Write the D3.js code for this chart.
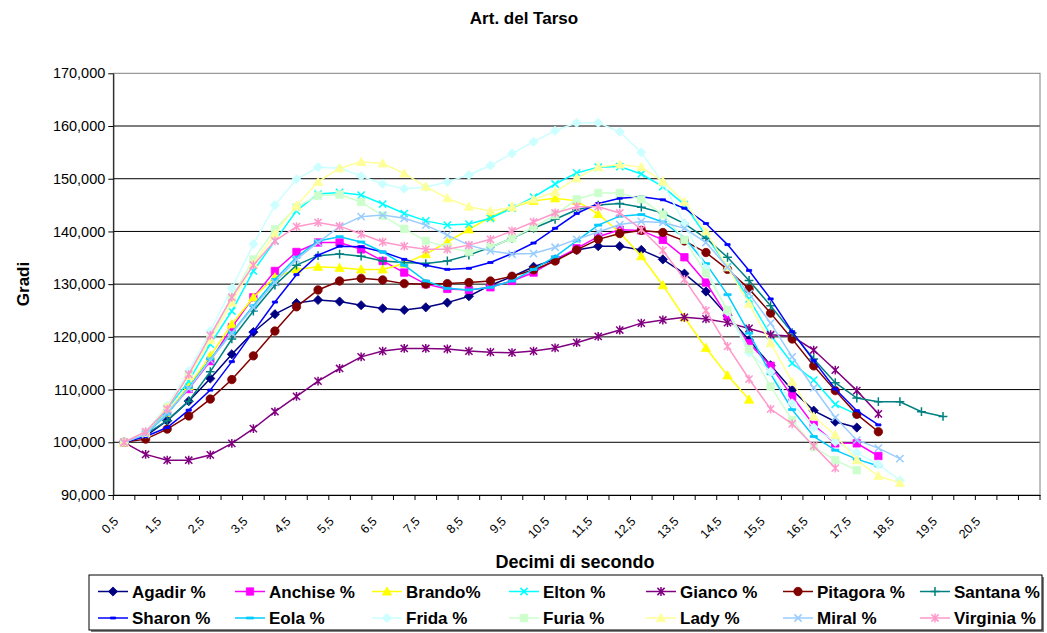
<!DOCTYPE html>
<html>
<head>
<meta charset="utf-8">
<script src="https://cdn.jsdelivr.net/npm/d3@7"></script>
<style>
  body { margin: 0; background: #fff; }
  svg { font-family: Arial, "Liberation Sans", sans-serif; }
</style>
</head>
<body>
<svg id="chart" width="1047" height="633"></svg>
<script>
// Tempo in decimi di secondo
const categories = [0.5, 1, 1.5, 2, 2.5, 3, 3.5, 4, 4.5, 5, 5.5, 6, 6.5, 7, 7.5, 8, 8.5, 9, 9.5, 10,
  10.5, 11, 11.5, 12, 12.5, 13, 13.5, 14, 14.5, 15, 15.5, 16, 16.5, 17, 17.5, 18, 18.5, 19, 19.5, 20,
  20.5, 21, 21.5];
const xTickLabels = ["0,5", "1,5", "2,5", "3,5", "4,5", "5,5", "6,5", "7,5", "8,5", "9,5", "10,5",
  "11,5", "12,5", "13,5", "14,5", "15,5", "16,5", "17,5", "18,5", "19,5", "20,5"];
const yTicks = [90, 100, 110, 120, 130, 140, 150, 160, 170];

// Angolo dell'articolazione del tarso, in % del valore iniziale
const agadir = [100, 101.2, 104.1, 107.8, 112.1, 116.7, 120.9, 124.3, 126.4, 127.0, 126.7, 126.0, 125.4, 125.1, 125.6, 126.5, 127.7, 129.8, 131.4, 133.3, 134.7, 136.5, 137.2, 137.2, 136.5, 134.7, 132.0, 128.6, 124.0, 119.4, 114.6, 109.9, 106.0, 103.9, 102.8];
const anchise = [100, 101.5, 105.6, 110.1, 115.4, 121.8, 127.5, 132.5, 136.1, 137.9, 137.9, 136.6, 134.4, 132.2, 130.0, 129.1, 128.9, 129.4, 130.6, 132.2, 134.6, 136.8, 139.0, 140.3, 140.2, 138.4, 135.1, 130.3, 123.9, 118.8, 114.5, 108.7, 103.3, 99.8, 99.8, 97.4];
const brando = [100, 101.8, 105.6, 110.7, 116.4, 122.4, 127.5, 131.3, 132.8, 133.3, 133.1, 132.8, 132.8, 133.9, 135.7, 138.0, 140.4, 142.7, 144.6, 145.8, 146.3, 145.8, 143.3, 139.8, 135.3, 129.8, 123.7, 117.9, 112.7, 108.1];
const elton = [100, 101.5, 106.3, 111.6, 118.6, 124.9, 132.5, 138.2, 143.9, 147.1, 147.4, 146.9, 145.2, 143.4, 142.0, 141.2, 141.4, 142.5, 144.4, 146.5, 149.0, 151.1, 152.2, 152.3, 150.9, 148.5, 145.1, 139.2, 133.3, 127.2, 120.3, 115.0, 111.8, 107.2, 105.3];
const gianco = [100, 97.7, 96.6, 96.6, 97.6, 99.8, 102.6, 105.8, 108.7, 111.6, 114.0, 116.2, 117.3, 117.8, 117.8, 117.7, 117.3, 117.1, 117.0, 117.3, 117.9, 118.9, 120.1, 121.3, 122.6, 123.2, 123.7, 123.4, 122.7, 121.6, 120.4, 120.1, 117.5, 113.7, 109.8, 105.4];
const pitagora = [100, 100.6, 102.5, 105.0, 108.2, 111.9, 116.4, 121.1, 125.7, 128.9, 130.6, 131.1, 130.8, 130.1, 130.0, 130.1, 130.3, 130.6, 131.5, 132.7, 134.4, 136.5, 138.5, 139.6, 140.2, 139.8, 138.2, 136.0, 132.8, 129.1, 124.5, 119.6, 114.5, 109.8, 105.3, 102.0];
const santana = [100, 101.5, 104.1, 107.8, 113.4, 119.6, 124.9, 129.8, 133.6, 135.4, 135.7, 135.3, 134.4, 134.1, 133.9, 134.4, 135.5, 137.0, 138.7, 140.6, 142.3, 144.1, 145.0, 145.3, 144.6, 143.5, 141.5, 138.7, 135.1, 130.7, 125.9, 120.8, 115.8, 111.3, 108.4, 107.7, 107.7, 105.8, 104.9];
const sharon = [100, 101.1, 102.8, 106.1, 109.9, 115.3, 121.0, 126.6, 131.8, 135.5, 137.2, 137.1, 136.1, 134.7, 133.6, 132.8, 133.0, 134.1, 135.8, 137.8, 140.6, 143.4, 145.3, 146.3, 146.6, 146.0, 144.4, 141.5, 137.5, 132.6, 127.2, 121.0, 115.5, 110.1, 106.0, 103.3];
const eola = [100, 101.5, 105.3, 110.4, 115.8, 120.8, 125.9, 130.9, 135.1, 138.2, 139.0, 138.0, 136.1, 133.6, 130.6, 129.2, 128.9, 129.4, 130.6, 132.8, 135.2, 138.2, 141.2, 142.9, 143.2, 141.8, 138.8, 133.9, 128.0, 120.7, 113.0, 106.2, 101.1, 98.5, 96.8, 95.5];
const frida = [100, 102.0, 106.9, 113.5, 121.1, 129.2, 137.6, 145.0, 149.9, 152.2, 152.0, 150.5, 149.0, 148.1, 148.4, 149.4, 150.7, 152.5, 154.8, 157.0, 159.1, 160.6, 160.6, 158.9, 155.0, 149.2, 141.5, 133.0, 124.8, 117.0, 113.4, 107.4, 102.8, 100.1, 98.0, 95.8, 92.8];
const furia = [100, 101.8, 106.6, 112.6, 119.6, 127.5, 134.7, 140.4, 144.6, 146.8, 147.0, 145.6, 143.0, 140.5, 138.2, 137.0, 136.1, 137.0, 138.7, 140.8, 143.1, 146.1, 147.3, 147.3, 146.1, 143.2, 138.4, 132.1, 125.1, 117.7, 110.6, 104.2, 99.1, 96.6, 94.7];
const lady = [100, 101.8, 106.6, 112.6, 119.4, 126.5, 133.8, 139.5, 144.9, 149.4, 152.0, 153.2, 152.9, 151.0, 148.5, 146.3, 144.7, 143.9, 144.6, 146.1, 147.5, 150.1, 152.2, 152.7, 152.2, 149.5, 145.6, 140.0, 133.2, 126.3, 118.8, 111.5, 104.9, 101.4, 96.6, 93.6, 92.3];
const miral = [100, 101.5, 105.6, 110.2, 115.6, 120.7, 125.6, 130.3, 134.7, 137.9, 140.9, 142.8, 143.1, 142.5, 141.2, 139.3, 137.4, 136.3, 135.7, 135.8, 137.0, 138.5, 139.9, 141.3, 141.9, 141.7, 140.6, 137.9, 133.2, 128.2, 122.6, 116.2, 110.3, 104.7, 100.4, 98.9, 96.9];
const virginia = [100, 102.0, 106.3, 112.9, 120.3, 127.5, 133.6, 138.2, 140.9, 141.7, 141.0, 139.5, 138.0, 137.2, 136.6, 136.6, 137.4, 138.5, 140.1, 141.8, 143.5, 144.7, 144.7, 143.5, 140.4, 136.4, 130.9, 125.0, 118.2, 112.0, 106.3, 103.5, 99.3, 95.1];

const seriesNames = ["Agadir %", "Anchise %", "Brando%", "Elton %", "Gianco %", "Pitagora %", "Santana %",
  "Sharon %", "Eola %", "Frida %", "Furia %", "Lady %", "Miral %", "Virginia %"];
const seriesValues = [agadir, anchise, brando, elton, gianco, pitagora, santana,
  sharon, eola, frida, furia, lady, miral, virginia];
const seriesColors = ["#000080", "#FF00FF", "#FFFF00", "#00FFFF", "#800080", "#800000", "#008080",
  "#0000FF", "#00CCFF", "#CCFFFF", "#CCFFCC", "#FFFF99", "#99CCFF", "#FF99CC"];
const seriesMarkers = ["diamond", "square", "triangle", "x", "star", "circle", "plus",
  "dash", "longdash", "diamond", "square", "triangle", "x", "star"];

// Marker shapes centred on (0,0)
const markerShapes = {
  diamond:  { d: "M0,-4.6L4.6,0L0,4.6L-4.6,0Z", fill: true },
  square:   { d: "M-3.7,-3.7H3.7V3.7H-3.7Z", fill: true },
  triangle: { d: "M0,-4.6L4.6,3.6H-4.6Z", fill: true },
  circle:   { d: "M4.2,0A4.2,4.2 0 1,1 -4.2,0A4.2,4.2 0 1,1 4.2,0Z", fill: true },
  x:        { d: "M-3.6,-3.6L3.6,3.6M-3.6,3.6L3.6,-3.6", fill: false },
  star:     { d: "M-3.6,-3.6L3.6,3.6M-3.6,3.6L3.6,-3.6M0,-4.4V4.4", fill: false },
  plus:     { d: "M-4.4,0H4.4M0,-4.4V4.4", fill: false },
  dash:     { d: "M-2.6,-1H2.6V1H-2.6Z", fill: true },
  longdash: { d: "M-3.6,-1H3.6V1H-3.6Z", fill: true }
};

const svg = d3.select("#chart");
const plot = { left: 113.3, right: 1040, top: 73.3, bottom: 495 };

const x = d3.scaleBand()
  .domain(d3.range(categories.length))
  .range([plot.left, plot.right]);
const cx = i => x(i) + x.bandwidth() / 2;
const y = d3.scaleLinear().domain([90, 170]).range([plot.bottom, plot.top]);
// 170 -> "170,000"
const fmtTick = v => d3.format(".3f")(v).replace(".", ",");

// Title
svg.append("text")
  .attr("x", 524).attr("y", 24)
  .attr("text-anchor", "middle")
  .style("font-weight", "bold").style("font-size", "17px")
  .text("Art. del Tarso");

// Gridlines
svg.append("g").selectAll("line")
  .data(yTicks.filter(v => v > 90 && v < 170))
  .join("line")
  .attr("x1", plot.left).attr("x2", plot.right)
  .attr("y1", d => y(d)).attr("y2", d => y(d))
  .attr("stroke", "#000").attr("stroke-width", 1);

// Plot area border
svg.append("rect")
  .attr("x", plot.left).attr("y", plot.top)
  .attr("width", plot.right - plot.left).attr("height", plot.bottom - plot.top)
  .attr("fill", "none").attr("stroke", "#808080").attr("stroke-width", 1);

// Y axis
const yAxis = svg.append("g")
  .attr("transform", `translate(${plot.left},0)`)
  .call(d3.axisLeft(y).tickValues(yTicks).tickSize(5).tickSizeOuter(0).tickPadding(3).tickFormat(fmtTick));
yAxis.selectAll("text").style("font-size", "14.5px").attr("fill", "#000");
yAxis.selectAll("line,path").attr("stroke", "#000");

// X axis (category axis with ticks between categories)
const xAxis = svg.append("g")
  .attr("transform", `translate(0,${plot.bottom})`)
  .call(d3.axisBottom(x)
    .tickValues(d3.range(0, xTickLabels.length * 2, 2))
    .tickSize(0).tickSizeOuter(0)
    .tickFormat(i => xTickLabels[i / 2]));
xAxis.select(".domain").attr("stroke", "#000");
xAxis.selectAll("text")
  .attr("x", 0).attr("y", 0).attr("dy", 0)
  .attr("text-anchor", "end")
  .attr("transform", "translate(-5,27) rotate(-45)")
  .style("font-size", "12.5px").attr("fill", "#000");
xAxis.append("g").selectAll("line")
  .data(d3.range(categories.length + 1))
  .join("line")
  .attr("x1", i => plot.left + i * x.step()).attr("x2", i => plot.left + i * x.step())
  .attr("y1", 0).attr("y2", 5)
  .attr("stroke", "#000");

// Axis titles
svg.append("text")
  .attr("transform", "translate(29,284) rotate(-90)")
  .attr("text-anchor", "middle")
  .style("font-weight", "bold").style("font-size", "17px")
  .text("Gradi");
svg.append("text")
  .attr("x", 575).attr("y", 568)
  .attr("text-anchor", "middle")
  .style("font-weight", "bold").style("font-size", "18px")
  .text("Decimi di secondo");

// Series
const line = d3.line()
  .defined(d => d.v != null)
  .x(d => cx(d.i))
  .y(d => y(d.v));

const series = seriesNames.map((name, k) => ({
  name,
  color: seriesColors[k],
  marker: seriesMarkers[k],
  points: categories.map((c, i) => ({ i, v: seriesValues[k][i] ?? null }))
}));

const sg = svg.append("g").selectAll("g").data(series).join("g");
sg.append("path")
  .attr("d", d => line(d.points))
  .attr("fill", "none")
  .attr("stroke", d => d.color)
  .attr("stroke-width", 1.5);
sg.each(function (s) {
  const shape = markerShapes[s.marker];
  d3.select(this).selectAll("path.m")
    .data(s.points.filter(p => p.v != null))
    .join("path")
    .attr("class", "m")
    .attr("transform", p => `translate(${cx(p.i)},${y(p.v)})`)
    .attr("d", shape.d)
    .attr("fill", shape.fill ? s.color : "none")
    .attr("stroke", s.color)
    .attr("stroke-width", shape.fill ? 0.8 : 1.5);
});

// Legend
const legend = { x: 89, y: 575, w: 953, h: 55 };
svg.append("rect")
  .attr("x", legend.x + 2).attr("y", legend.y + 2)
  .attr("width", legend.w).attr("height", legend.h)
  .attr("fill", "#808080");
svg.append("rect")
  .attr("x", legend.x).attr("y", legend.y)
  .attr("width", legend.w).attr("height", legend.h)
  .attr("fill", "#fff").attr("stroke", "#000").attr("stroke-width", 1);

const lg = svg.append("g").selectAll("g").data(series).join("g")
  .attr("transform", (d, k) => `translate(${98 + (k % 7) * 137},${k < 7 ? 591.5 : 618})`);
lg.append("line")
  .attr("x1", 0).attr("x2", 30)
  .attr("stroke", d => d.color).attr("stroke-width", 1.5);
lg.append("path")
  .attr("transform", "translate(15,0)")
  .attr("d", d => markerShapes[d.marker].d)
  .attr("fill", d => markerShapes[d.marker].fill ? d.color : "none")
  .attr("stroke", d => d.color)
  .attr("stroke-width", d => markerShapes[d.marker].fill ? 0.8 : 1.5);
lg.append("text")
  .attr("x", 34).attr("y", 6)
  .style("font-weight", "bold").style("font-size", "17px")
  .text(d => d.name);
</script>
</body>
</html>
